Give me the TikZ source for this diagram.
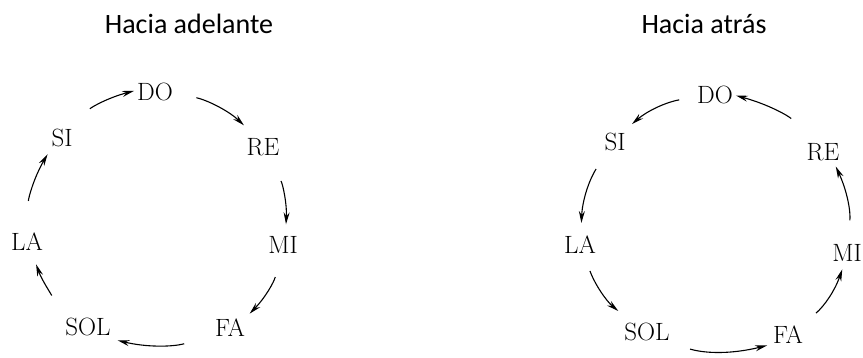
\documentclass[tikz,border=0pt]{standalone}
\usepackage{fontspec}
\usepackage{tikz}
\usetikzlibrary{arrows.meta, positioning}
\newfontfamily\titlefont{Carlito}

\begin{document}
\begin{tikzpicture}[x=1pt, y=1pt,
    nota/.style={font=\fontsize{25}{25}\selectfont, inner sep=1pt},
    titulo/.style={font=\titlefont\fontsize{28}{28}\selectfont},
    flecha/.style={-{Stealth[length=12pt, width=6pt, inset=4pt]}, line width=1.1pt},
    ]
    \useasboundingbox (0,0) rectangle (863,357);

    % hacia adelante
    \node[titulo] (tadel) at (189,333) {Hacia adelante};
    \node[nota] (do1) at (155,265) {DO};
    \node[nota] (re1) at (263,210) {RE};
    \node[nota] (mi1) at (283,112) {MI};
    \node[nota] (fa1) at (230,29) {FA};
    \node[nota] (sol1) at (88,30) {SOL};
    \node[nota] (la1) at (27,115) {LA};
    \node[nota] (si1) at (62,219) {SI};

    \draw[flecha, shorten <=27pt, shorten >=2pt] (si1.49) to[bend left=15] (do1.175);
    \draw[flecha, shorten <=23pt, shorten >=17pt] (do1.-1) to[bend left=15] (re1.124);
    \draw[flecha, shorten <=27pt, shorten >=11pt] (re1.-60) to[bend left=15] (mi1.76);
    \draw[flecha, shorten <=23pt, shorten >=6pt] (mi1.-102) to[bend left=15] (fa1.33);
    \draw[flecha, shorten <=31pt, shorten >=13pt] (fa1.204) to[bend left=15] (sol1.-31);
    \draw[flecha, shorten <=33pt, shorten >=13pt] (sol1.138) to[bend left=15] (la1.-65);
    \draw[flecha, shorten <=31pt, shorten >=7pt] (la1.83) to[bend left=15] (si1.223);

    % hacia atras
    \node[titulo] (tatr) at (704,333) {Hacia atrás};
    \node[nota] (do2) at (715,262) {DO};
    \node[nota] (re2) at (823,205) {RE};
    \node[nota] (mi2) at (847,104) {MI};
    \node[nota] (fa2) at (788,22) {FA};
    \node[nota] (sol2) at (647,25) {SOL};
    \node[nota] (la2) at (580,112) {LA};
    \node[nota] (si2) at (615,215) {SI};

    \draw[flecha, shorten <=33pt, shorten >=2pt] (re2.131) to[bend right=15] (do2.0);
    \draw[flecha, shorten <=17pt, shorten >=12pt] (do2.185) to[bend right=15] (si2.52);
    \draw[flecha, shorten <=20pt, shorten >=12pt] (si2.231) to[bend right=15] (la2.85);
    \draw[flecha, shorten <=17pt, shorten >=17pt] (la2.-68) to[bend right=15] (sol2.147);
    \draw[flecha, shorten <=25pt, shorten >=5pt] (sol2.-28) to[bend right=15] (fa2.210);
    \draw[flecha, shorten <=18pt, shorten >=7pt] (fa2.35) to[bend right=15] (mi2.256);
    \draw[flecha, shorten <=23pt, shorten >=5pt] (mi2.85) to[bend right=15] (re2.-43);
\end{tikzpicture}
\end{document}
